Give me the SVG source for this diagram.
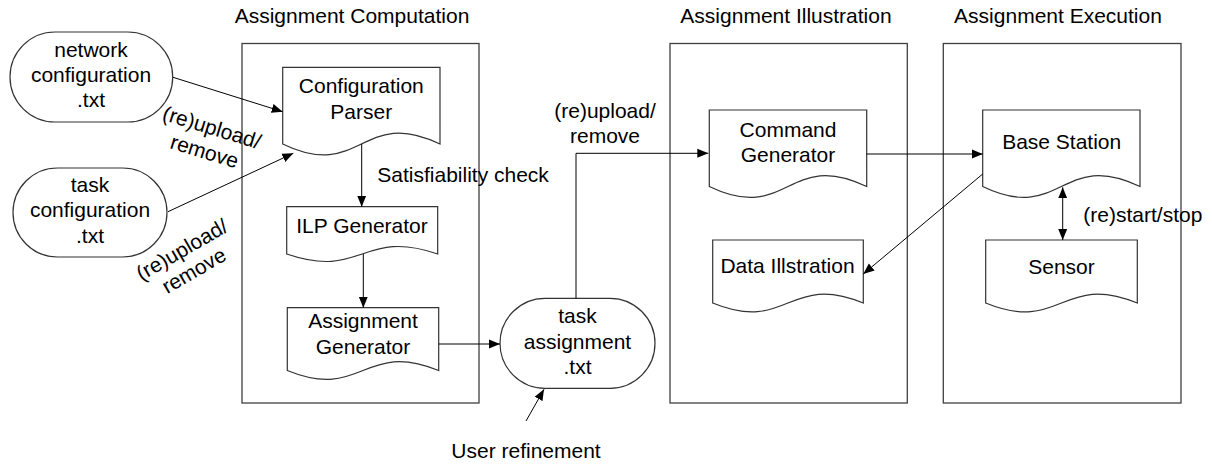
<svg xmlns="http://www.w3.org/2000/svg" width="1212" height="465" viewBox="0 0 1212 465">
<style>
text{font-family:"Liberation Sans",Arial,sans-serif;font-size:21px;fill:#000}
.c{text-anchor:middle}
.box{fill:#fff;stroke:#404040;stroke-width:1.3}
.shape{fill:#fff;stroke:#333;stroke-width:1.2}
.conn{fill:none;stroke:#000;stroke-width:1}
</style>
<defs>
<marker id="ah" markerUnits="userSpaceOnUse" markerWidth="12" markerHeight="10" refX="11" refY="5" orient="auto-start-reverse" viewBox="0 0 12 10">
<path d="M0,0.5 L11,5 L0,9.5 z" fill="#000"/>
</marker>
</defs>
<rect width="1212" height="465" fill="#fff"/>

<g id="container-computation">
<rect class="box" x="242" y="43.5" width="237" height="359.5"/>
<text class="c" x="352" y="23">Assignment Computation</text>
</g>
<g id="container-illustration">
<rect class="box" x="670" y="43.5" width="237.3" height="359.5"/>
<text class="c" x="786" y="23">Assignment Illustration</text>
</g>
<g id="container-execution">
<rect class="box" x="943.3" y="43.5" width="237.7" height="359.5"/>
<text class="c" x="1058" y="23">Assignment Execution</text>
</g>

<g id="network-configuration">
<rect class="shape" x="10" y="32" width="162.7" height="90" rx="45" ry="45"/>
<text class="c" x="91" y="56.7">network</text>
<text class="c" x="91" y="81.7">configuration</text>
<text class="c" x="91" y="107">.txt</text>
</g>
<g id="task-configuration">
<rect class="shape" x="13" y="168" width="154" height="89" rx="44.5" ry="44.5"/>
<text class="c" x="90" y="192.3">task</text>
<text class="c" x="90" y="217.3">configuration</text>
<text class="c" x="90" y="242.7">.txt</text>
</g>

<g id="configuration-parser">
<path class="shape" d="M282.7,144 V67.3 H440 V144 C361.3,106 361.3,182 282.7,144 Z"/>
<text class="c" x="361.3" y="93.3">Configuration</text>
<text class="c" x="361.3" y="119.3">Parser</text>
</g>
<g id="ilp-generator">
<path class="shape" d="M286.7,254 V206.7 H437.7 V254 C362.2,228 362.2,280 286.7,254 Z"/>
<text class="c" x="362" y="233.3">ILP Generator</text>
</g>
<g id="assignment-generator">
<path class="shape" d="M287.3,370.5 V307.7 H438.7 V370.5 C363,339.5 363,401.5 287.3,370.5 Z"/>
<text class="c" x="363" y="328.3">Assignment</text>
<text class="c" x="363" y="354">Generator</text>
</g>

<g id="task-assignment">
<rect class="shape" x="500" y="298.3" width="155" height="90" rx="45" ry="45"/>
<text class="c" x="577.5" y="323.3">task</text>
<text class="c" x="577.5" y="349.3">assignment</text>
<text class="c" x="577.5" y="374.3">.txt</text>
</g>

<g id="command-generator">
<path class="shape" d="M709.3,186.5 V110 H866.7 V186.5 C788,148.5 788,224.5 709.3,186.5 Z"/>
<text class="c" x="788" y="136.7">Command</text>
<text class="c" x="788" y="161.7">Generator</text>
</g>
<g id="data-illstration">
<path class="shape" d="M712.7,303 V240 H863.3 V303 C788,272 788,334 712.7,303 Z"/>
<text class="c" x="787.5" y="273.3">Data Illstration</text>
</g>

<g id="base-station">
<path class="shape" d="M982.7,186.5 V110 H1140 V186.5 C1061.3,148.5 1061.3,224.5 982.7,186.5 Z"/>
<text class="c" x="1061.7" y="149.3">Base Station</text>
</g>
<g id="sensor">
<path class="shape" d="M985.7,303 V240 H1137.3 V303 C1061.5,272 1061.5,334 985.7,303 Z"/>
<text class="c" x="1061.5" y="274">Sensor</text>
</g>

<g id="connectors">
<line class="conn" x1="173" y1="77.3" x2="282.7" y2="111.7" marker-end="url(#ah)"/>
<line class="conn" x1="168" y1="211.7" x2="293.3" y2="153.3" marker-end="url(#ah)"/>
<line class="conn" x1="361.7" y1="144" x2="361.7" y2="206.7" marker-end="url(#ah)"/>
<line class="conn" x1="363.3" y1="254" x2="363.3" y2="307.7" marker-end="url(#ah)"/>
<line class="conn" x1="438.7" y1="344" x2="500" y2="344" marker-end="url(#ah)"/>
<polyline class="conn" points="576,298.3 576,153.3 708.3,153.3" marker-end="url(#ah)"/>
<line class="conn" x1="526" y1="421" x2="544" y2="389.3" marker-end="url(#ah)"/>
<line class="conn" x1="866.7" y1="154" x2="982.7" y2="154" marker-end="url(#ah)"/>
<line class="conn" x1="982.7" y1="174" x2="863.3" y2="274" marker-end="url(#ah)"/>
<line class="conn" x1="1062.7" y1="187.3" x2="1062.7" y2="240" marker-start="url(#ah)" marker-end="url(#ah)"/>
</g>

<g id="labels">
<g transform="translate(208,140) rotate(17)">
<text class="c" x="0" y="-6">(re)upload/</text>
<text class="c" x="0" y="19">remove</text>
</g>
<g transform="translate(189,262) rotate(-30)">
<text class="c" x="0" y="-7">(re)upload/</text>
<text class="c" x="0" y="17">remove</text>
</g>
<text x="377.3" y="181.7">Satisfiability check</text>
<text class="c" x="605" y="118.3">(re)upload/</text>
<text class="c" x="605" y="143.3">remove</text>
<text class="c" x="526" y="458.3">User refinement</text>
<text x="1083.3" y="221.7">(re)start/stop</text>
</g>
</svg>
